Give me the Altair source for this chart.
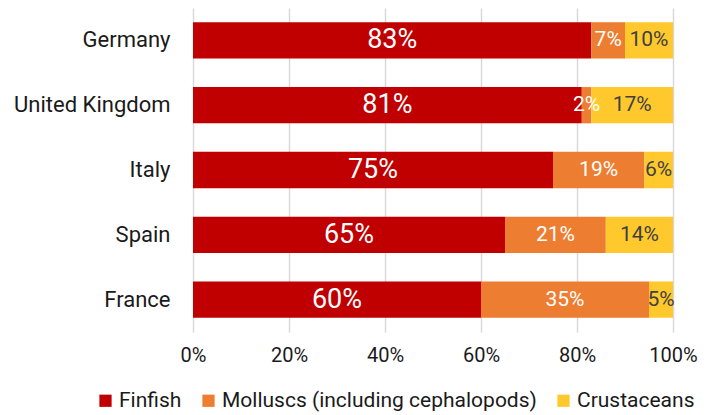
import altair as alt
import pandas as pd

countries = ["Germany", "United Kingdom", "Italy", "Spain", "France"]
categories = ["Finfish", "Molluscs (including cephalopods)", "Crustaceans"]
finfish = [83, 81, 75, 65, 60]
molluscs = [7, 2, 19, 21, 35]
crustaceans = [10, 17, 6, 14, 5]
colors = ["#C00000", "#ED7D31", "#FFC92E"]
x_ticks = [0, 20, 40, 60, 80, 100]

rows = []
for i, c in enumerate(countries):
    start = 0
    for j, (cat, vals) in enumerate(zip(categories, [finfish, molluscs, crustaceans])):
        v = vals[i]
        rows.append(dict(country=c, category=cat, order=j, value=v, start=start,
                         end=start + v, mid=start + v / 2, label=f"{v}%"))
        start += v
df = pd.DataFrame(rows)

FONT = "Roboto"

y_enc = alt.Y("country:N", sort=countries, title=None,
              scale=alt.Scale(paddingInner=0.44, paddingOuter=0.22),
              axis=alt.Axis(domain=False, ticks=False, grid=False, labelFontSize=22,
                            labelPadding=23, labelColor="#1a1a1a", labelFont=FONT))

bars = alt.Chart(df).mark_bar().encode(
    x=alt.X("start:Q", title=None, scale=alt.Scale(domain=[0, 100], nice=False),
            axis=alt.Axis(values=x_ticks, labelExpr="datum.value + '%'", domain=False,
                          ticks=False, grid=True, gridColor="#d9d9d9", gridWidth=1.5,
                          labelFontSize=20, labelPadding=13, labelColor="#1a1a1a",
                          labelFont=FONT, labelFlush=False)),
    x2="end:Q",
    y=y_enc,
    color=alt.Color("category:N", sort=categories,
                    scale=alt.Scale(domain=categories, range=colors),
                    legend=alt.Legend(title=None, orient="none", direction="horizontal",
                                      legendX=-98, legendY=382, symbolType="square",
                                      symbolSize=150, symbolStrokeWidth=0,
                                      labelFontSize=21, labelFont=FONT,
                                      labelColor="#1a1a1a", labelOffset=3,
                                      columnPadding=16, labelLimit=400)),
    order=alt.Order("order:Q"),
)

text = alt.Chart(df).mark_text(font=FONT, baseline="middle", align="center").encode(
    x=alt.X("mid:Q"),
    y=alt.Y("country:N", sort=countries),
    text="label:N",
    color=alt.condition("datum.category == 'Crustaceans'", alt.value("#404040"),
                        alt.value("#FFFFFF")),
    size=alt.condition("datum.order == 0", alt.value(27), alt.value(21)),
)

chart = alt.layer(bars, text).properties(
    width=480, height=324,
    autosize=alt.AutoSizeParams(type="none"),
    padding={"left": 185, "top": 0, "right": 28, "bottom": 82},
).configure_view(stroke=None)

chart.save("out.html", embed_options={"renderer": "svg", "actions": False})
